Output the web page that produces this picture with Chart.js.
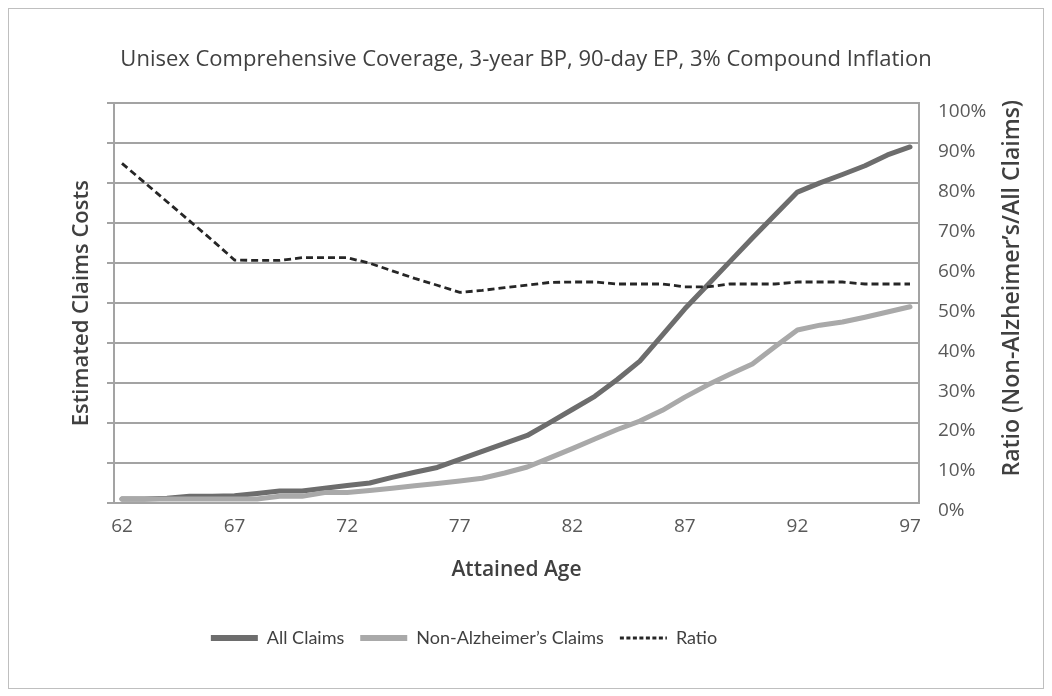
<!DOCTYPE html>
<html><head><meta charset="utf-8">
<script src="https://cdn.jsdelivr.net/npm/chart.js@4.4.1/dist/chart.umd.min.js"></script>
<style>
html,body{margin:0;padding:0;background:#fff;}
#wrap{position:relative;width:1052px;height:696px;}
#frame{position:absolute;left:8px;top:8px;width:1036px;height:681px;border:1px solid #bfbfbf;box-sizing:border-box;pointer-events:none;}
canvas{position:absolute;left:0;top:0;}
</style></head><body>
<div id="wrap"><canvas id="c" width="1052" height="696"></canvas><div id="frame"></div></div>
<script>
const ages = [62,63,64,65,66,67,68,69,70,71,72,73,74,75,76,77,78,79,80,81,82,83,84,85,86,87,88,89,90,91,92,93,94,95,96,97];
const allClaims = [0.10,0.10,0.12,0.17,0.17,0.18,0.24,0.30,0.30,0.37,0.44,0.50,0.64,0.77,0.89,1.09,1.29,1.49,1.69,2.01,2.34,2.67,3.09,3.55,4.20,4.86,5.45,6.04,6.63,7.21,7.78,8.01,8.22,8.44,8.71,8.91];
const nonAlzClaims = [0.10,0.10,0.10,0.10,0.10,0.10,0.10,0.17,0.17,0.26,0.26,0.31,0.37,0.43,0.49,0.55,0.62,0.75,0.90,1.13,1.36,1.60,1.84,2.05,2.32,2.65,2.95,3.22,3.48,3.91,4.33,4.45,4.53,4.65,4.78,4.91];
const ratioPct = [85.0,80.2,75.4,70.6,65.8,60.8,60.7,60.7,61.4,61.4,61.4,60.0,58.1,56.2,54.5,52.7,53.2,53.9,54.5,55.2,55.3,55.3,54.8,54.8,54.8,54.1,54.1,54.8,54.8,54.8,55.3,55.3,55.3,54.8,54.8,54.8];
const xTickAges = [62,67,72,77,82,87,92,97];
const seriesNames = ['All Claims', 'Non-Alzheimer\u2019s Claims', 'Ratio'];
const titleText = 'Unisex Comprehensive Coverage, 3-year BP, 90-day EP, 3% Compound Inflation';
const xTitle = 'Attained Age';
const yTitle = 'Estimated Claims Costs';
const y1Title = 'Ratio (Non-Alzheimer\u2019s/All Claims)';

const FONT = "'Open Sans', 'Noto Sans', sans-serif";
const LEGEND_FONT = "Lato, 'Open Sans', sans-serif";
const GRID = '#a3a3a3';
const TXT = '#404040';
const TICK = '#595959';
const pts = arr => ages.map((a, i) => ({x: a, y: arr[i]}));

const legendShift = {
  id: 'legendShift',
  afterLayout(chart) {
    const l = chart.legend;
    if (l) { l.left -= 62; l.right -= 62; }
  }
};

const rightTitle = {
  id: 'rightTitle',
  afterDraw(chart) {
    const s = chart.scales.y1;
    const ca = chart.chartArea;
    const ctx = chart.ctx;
    ctx.save();
    ctx.translate(s.right - 40, (ca.top + ca.bottom) / 2 - 15);
    ctx.rotate(-Math.PI / 2);
    ctx.font = "600 23px " + FONT;
    ctx.fillStyle = TXT;
    ctx.textAlign = 'center';
    ctx.textBaseline = 'middle';
    ctx.fillText(y1Title, 0, 0);
    ctx.restore();
  }
};

new Chart(document.getElementById('c'), {
  type: 'line',
  data: {
    datasets: [
      {label: seriesNames[0], data: pts(allClaims), yAxisID: 'y', borderColor: '#6d6d6d', backgroundColor: '#6d6d6d', borderWidth: 5, pointRadius: 0, tension: 0, borderCapStyle: 'round', borderJoinStyle: 'round', order: 3},
      {label: seriesNames[1], data: pts(nonAlzClaims), yAxisID: 'y', borderColor: '#a9a9a9', backgroundColor: '#a9a9a9', borderWidth: 5, pointRadius: 0, tension: 0, borderCapStyle: 'round', borderJoinStyle: 'round', order: 2},
      {label: seriesNames[2], data: pts(ratioPct), yAxisID: 'y1', borderColor: '#262626', backgroundColor: '#262626', borderWidth: 2.8, borderDash: [7, 4], pointRadius: 0, tension: 0, order: 1}
    ]
  },
  options: {
    responsive: false,
    animation: false,
    devicePixelRatio: 1,
    layout: {padding: {top: 0, left: 0, right: 0, bottom: 39}},
    plugins: {
      title: {display: true, text: titleText, color: TXT, font: {family: FONT, size: 22, weight: 'normal'}, padding: {top: 47, bottom: 30}},
      legend: {
        display: true, position: 'bottom',
        labels: {
          usePointStyle: true, pointStyle: 'line', pointStyleWidth: 47, padding: 16,
          color: TXT, font: {family: LEGEND_FONT, size: 18},
          sort: (a, b) => a.datasetIndex - b.datasetIndex,
          generateLabels: chart => {
            const items = Chart.defaults.plugins.legend.labels.generateLabels(chart);
            items.forEach(it => {
              const ds = chart.data.datasets[it.datasetIndex];
              it.lineDash = ds.borderDash ? [4, 2.5] : [];
              it.lineWidth = ds.borderDash ? 2.8 : 6;
              it.lineCap = 'butt';
            });
            return items;
          }
        }
      },
      tooltip: {enabled: false}
    },
    scales: {
      x: {
        type: 'linear', min: 61.645, max: 97.4,
        afterBuildTicks: s => { s.ticks = xTickAges.map(v => ({value: v})); },
        grid: {display: false, drawTicks: false},
        border: {display: true, color: GRID, width: 2},
        ticks: {color: TICK, font: {family: FONT, size: 19}, padding: 12, autoSkip: false, maxRotation: 0, callback: v => String(v)},
        title: {display: true, text: xTitle, color: TXT, font: {family: FONT, size: 21, weight: '600'}, padding: {top: 0, bottom: 30}},
        afterFit: s => { s.height = 110; }
      },
      y: {
        position: 'left', min: 0, max: 10,
        ticks: {display: false, stepSize: 1},
        grid: {color: GRID, lineWidth: 2, drawTicks: true, tickLength: 7, tickColor: GRID},
        border: {display: true, color: GRID, width: 2},
        title: {display: true, text: yTitle, color: TXT, font: {family: FONT, size: 22, weight: '600'}, padding: {top: 69, bottom: 0}},
        afterFit: s => { s.width = 114; }
      },
      y1: {
        position: 'right', min: 0, max: 100,
        ticks: {stepSize: 10, color: TICK, font: {family: FONT, size: 19}, padding: 11, labelOffset: 8, callback: v => v + '%'},
        grid: {display: false, drawOnChartArea: false},
        border: {display: true, color: GRID, width: 2},
        title: {display: false},
        afterFit: s => { s.width = 133; }
      }
    }
  },
  plugins: [legendShift, rightTitle]
});
</script>
</body></html>
